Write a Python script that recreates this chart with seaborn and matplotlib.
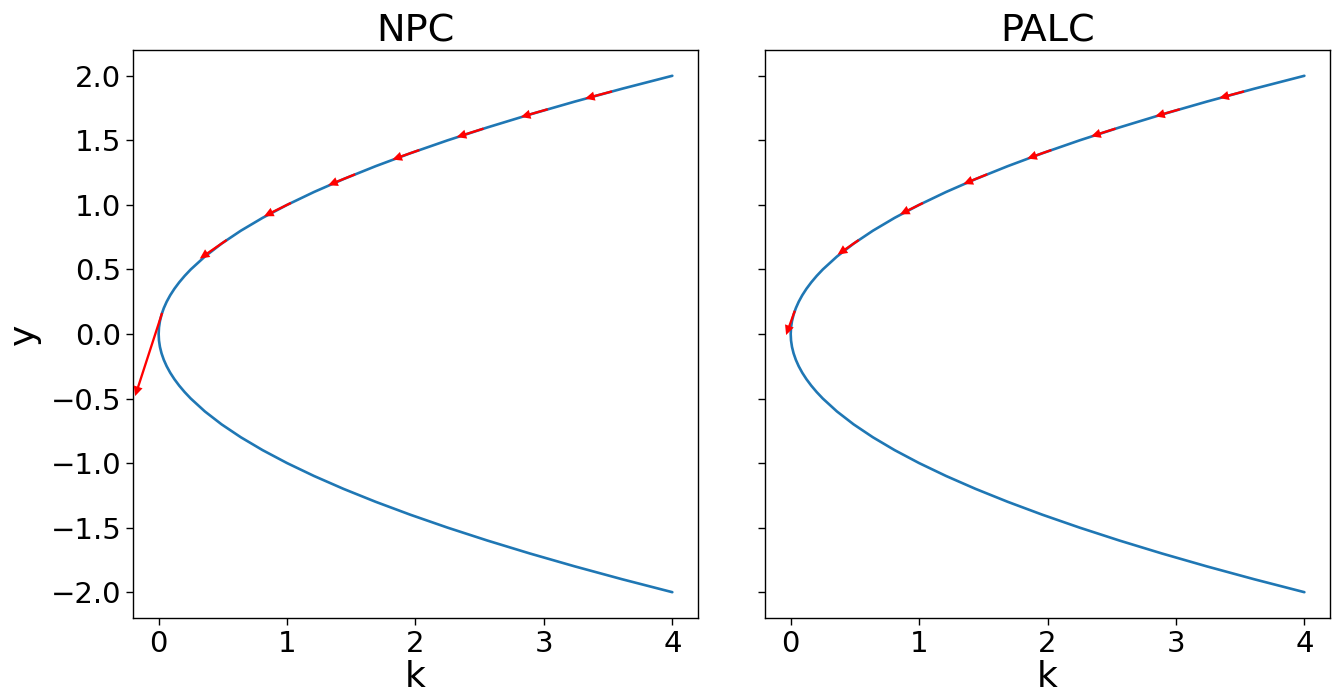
import matplotlib
matplotlib.use("Agg")
import matplotlib.pyplot as plt
import seaborn as sns
import pandas as pd

# ---- data: solution branch k = y^2 ----
curve_y = [-2.0, -1.9, -1.8, -1.7, -1.6, -1.5, -1.4, -1.3, -1.2, -1.1, -1.0,
           -0.9, -0.8, -0.7, -0.6, -0.5, -0.45, -0.4, -0.35, -0.3, -0.25, -0.2,
           -0.15, -0.1, -0.05, 0.0, 0.05, 0.1, 0.15,
           0.2, 0.25, 0.3, 0.35, 0.4, 0.45, 0.5, 0.6, 0.7, 0.8, 0.9, 1.0,
           1.1, 1.2, 1.3, 1.4, 1.5, 1.6, 1.7, 1.8, 1.9, 2.0]
curve_k = [4.00, 3.61, 3.24, 2.89, 2.56, 2.25, 1.96, 1.69, 1.44, 1.21, 1.00,
           0.81, 0.64, 0.49, 0.36, 0.25, 0.2025, 0.16, 0.1225, 0.09, 0.0625, 0.04,
           0.0225, 0.01, 0.0025, 0.00, 0.0025, 0.01, 0.0225,
           0.04, 0.0625, 0.09, 0.1225, 0.16, 0.2025, 0.25, 0.36, 0.49, 0.64, 0.81, 1.00,
           1.21, 1.44, 1.69, 1.96, 2.25, 2.56, 2.89, 3.24, 3.61, 4.00]

# ---- NPC tangent predictors ----
npc_k = [3.53, 3.03, 2.53, 2.03, 1.53, 1.03, 0.53, 0.027]
npc_y = [1.879, 1.741, 1.591, 1.425, 1.237, 1.015, 0.728, 0.163]
npc_dk = [-0.21, -0.21, -0.21, -0.21, -0.21, -0.21, -0.21, -0.21]
npc_dy = [-0.0559, -0.0603, -0.0660, -0.0737, -0.0849, -0.1034, -0.1442, -0.644]

# ---- PALC tangent predictors ----
palc_k = [3.53, 3.03, 2.53, 2.03, 1.53, 1.03, 0.53, 0.032]
palc_y = [1.879, 1.741, 1.591, 1.425, 1.237, 1.015, 0.728, 0.18]
palc_dk = [-0.1933, -0.1922, -0.1908, -0.1887, -0.1854, -0.1794, -0.1649, -0.0677]
palc_dy = [-0.0514, -0.0552, -0.0600, -0.0662, -0.0750, -0.0884, -0.1132, -0.1882]

titles = ["NPC", "PALC"]
x_label = "k"
y_label = "y"

sns.set_style("ticks")
plt.rcParams['font.family'] = ['DejaVu Sans']
for key in ["text.color", "axes.labelcolor", "xtick.color", "ytick.color", "axes.edgecolor"]:
    plt.rcParams[key] = "black"

curve = pd.DataFrame({"k": curve_k, "y": curve_y})

fig, axes = plt.subplots(1, 2, figsize=(13.35, 6.94), dpi=100, sharey=True)
fig.subplots_adjust(left=0.0996, right=0.9963, top=0.928, bottom=0.1095, wspace=0.1186)

arrow_sets = [(npc_k, npc_y, npc_dk, npc_dy), (palc_k, palc_y, palc_dk, palc_dy)]

for ax, title, (ak, ay, adk, ady) in zip(axes, titles, arrow_sets):
    sns.lineplot(data=curve, x="k", y="y", sort=False, estimator=None,
                 color="#1f77b4", linewidth=1.9, ax=ax)
    for x0, y0, dx, dy in zip(ak, ay, adk, ady):
        ax.arrow(x0, y0, dx, dy, width=0.018, head_width=0.072, head_length=0.075,
                 length_includes_head=True, color="red", linewidth=0, zorder=3)
    ax.set_xlim(-0.2, 4.2)
    ax.set_ylim(-2.2, 2.2)
    ax.set_title(title, fontsize=27.5)
    ax.set_xlabel(x_label, fontsize=26, labelpad=1.5)
    ax.set_ylabel("")
    ax.tick_params(labelsize=21, length=5, width=1, colors="black")
    for s in ax.spines.values():
        s.set_visible(True)
        s.set_linewidth(1)
        s.set_color("black")

axes[0].set_ylabel(y_label, fontsize=26, labelpad=7)
axes[0].set_xticks([0, 1, 2, 3, 4])
axes[1].set_xticks([0, 1, 2, 3, 4])
axes[0].set_yticks([-2.0, -1.5, -1.0, -0.5, 0.0, 0.5, 1.0, 1.5, 2.0])

fig.savefig("out.png", dpi=100)
